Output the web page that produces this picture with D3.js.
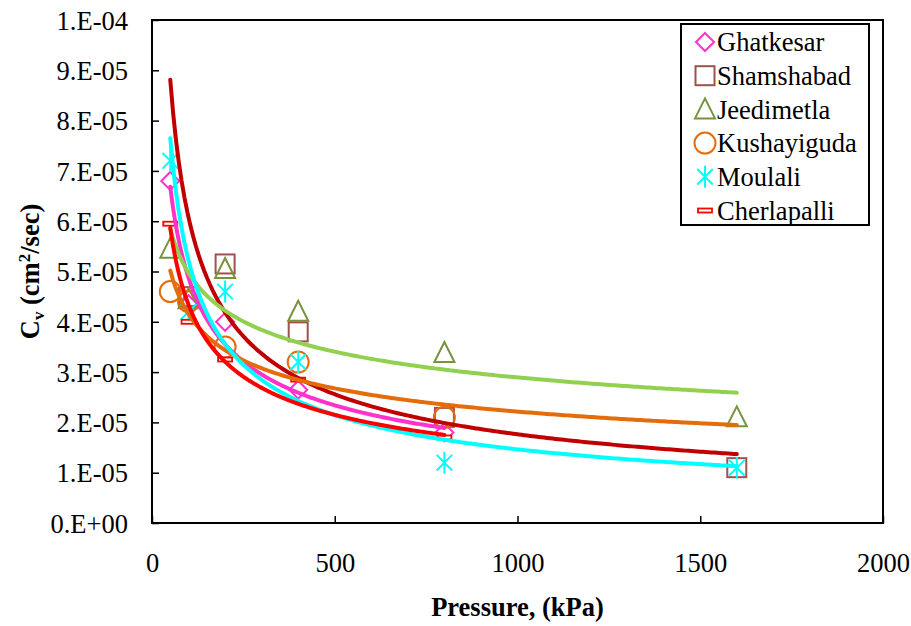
<!DOCTYPE html>
<html>
<head>
<meta charset="utf-8">
<script src="https://cdn.jsdelivr.net/npm/d3@7"></script>
<style>
  html, body { margin: 0; padding: 0; background: #fff; }
  svg { display: block; font-family: "Liberation Serif", "Times New Roman", serif; }
</style>
</head>
<body>
<svg id="chart" width="911" height="626"></svg>
<script>
// Consolidation test results: coefficient of consolidation vs. applied pressure
const pressures = [50, 100, 200, 400, 800, 1600];
const seriesNames = ["Ghatkesar", "Shamshabad", "Jeedimetla", "Kushayiguda", "Moulali", "Cherlapalli"];

const ghatkesar   = [6.8e-5, 4.35e-5, 4.0e-5, 2.65e-5, 1.8e-5, null];
const shamshabad  = [null, 4.5e-5, 5.15e-5, 3.8e-5, 2.1e-5, 1.1e-5];
const jeedimetla  = [5.45e-5, 4.45e-5, 5.05e-5, 4.2e-5, 3.38e-5, 2.1e-5];
const kushayiguda = [4.6e-5, 4.4e-5, 3.5e-5, 3.2e-5, 2.1e-5, null];
const moulali     = [7.2e-5, 4.2e-5, 4.6e-5, 3.2e-5, 1.2e-5, 1.1e-5];
const cherlapalli = [5.95e-5, 4.0e-5, 3.25e-5, 2.85e-5, 1.7e-5, null];

// Power trendlines Cv = a * P^b, with the pressure span each one covers
const trendA     = [3.98e-4, 7.2e-4, 1.467e-4, 1.46e-4, 6.63e-4, 3.23e-4];
const trendB     = [-0.456, -0.537, -0.235, -0.273, -0.552, -0.436];
const trendStart = [50, 50, 50, 50, 50, 50];
const trendEnd   = [800, 1600, 1600, 1600, 1600, 800];

const xTicks = [0, 500, 1000, 1500, 2000];
const yTicks = [0, 1e-5, 2e-5, 3e-5, 4e-5, 5e-5, 6e-5, 7e-5, 8e-5, 9e-5, 1e-4];
const yTickLabels = ["0.E+00", "1.E-05", "2.E-05", "3.E-05", "4.E-05", "5.E-05",
                     "6.E-05", "7.E-05", "8.E-05", "9.E-05", "1.E-04"];

const seriesValues = [ghatkesar, shamshabad, jeedimetla, kushayiguda, moulali, cherlapalli];
const markerColors = ["#FF33CC", "#A0504D", "#77933C", "#E46C0A", "#00FFFF", "#FF0000"];
const trendColors  = ["#FF33CC", "#C00000", "#92D050", "#E46C0A", "#00FFFF", "#FF0000"];
const markerKinds  = ["diamond", "square", "triangle", "circle", "asterisk", "dash"];

const FONT = 26.5;
const svg = d3.select("#chart");
const plot = { left: 152, right: 883, top: 20, bottom: 523 };

const x = d3.scaleLinear().domain([0, 2000]).range([plot.left, plot.right]);
const y = d3.scaleLinear().domain([0, 1e-4]).range([plot.bottom, plot.top]);

// Plot frame
svg.append("rect")
  .attr("x", plot.left).attr("y", plot.top)
  .attr("width", plot.right - plot.left).attr("height", plot.bottom - plot.top)
  .attr("fill", "none").attr("stroke", "#000").attr("stroke-width", 2);

// Axes with inward ticks
const yAxis = d3.axisRight(y).tickValues(yTicks)
  .tickFormat((d, i) => yTickLabels[i]).tickSize(7).tickPadding(0);
const gy = svg.append("g").attr("transform", `translate(${plot.left},0)`).call(yAxis);
gy.select(".domain").remove();
gy.selectAll("line").attr("stroke", "#000").attr("stroke-width", 1.5);
gy.selectAll("text")
  .attr("x", -24).attr("text-anchor", "end").attr("dy", "0.35em")
  .attr("font-size", FONT).attr("fill", "#000")
  .style("font-family", "'Liberation Serif', serif");

const xAxis = d3.axisTop(x).tickValues(xTicks).tickSize(7).tickFormat(d3.format("d"));
const gx = svg.append("g").attr("transform", `translate(0,${plot.bottom})`).call(xAxis);
gx.select(".domain").remove();
gx.selectAll("line").attr("stroke", "#000").attr("stroke-width", 1.5);
gx.selectAll("text")
  .attr("y", 40).attr("dy", "0.35em").attr("text-anchor", "middle")
  .attr("font-size", FONT).attr("fill", "#000")
  .style("font-family", "'Liberation Serif', serif");

// Axis titles
svg.append("text")
  .attr("x", (plot.left + plot.right) / 2).attr("y", 607)
  .attr("text-anchor", "middle").attr("dy", "0.35em")
  .attr("font-size", FONT).attr("font-weight", "bold")
  .text("Pressure, (kPa)");

const yTitle = svg.append("text")
  .attr("transform", `translate(30,${(plot.top + plot.bottom) / 2}) rotate(-90)`)
  .attr("text-anchor", "middle").attr("dy", "0.35em")
  .attr("font-size", FONT).attr("font-weight", "bold");
yTitle.append("tspan").text("C");
yTitle.append("tspan").attr("font-size", 17).attr("dy", 5).text("v");
yTitle.append("tspan").attr("dy", -5).text(" (cm");
yTitle.append("tspan").attr("font-size", 17).attr("dy", -9).text("2");
yTitle.append("tspan").attr("dy", 9).text("/sec)");

// Marker drawing
function drawMarker(g, kind, color, cx, cy) {
  const sw = 2;
  if (kind === "diamond") {
    const r = 9;
    g.append("path").attr("d", `M${cx},${cy - r}L${cx + r},${cy}L${cx},${cy + r}L${cx - r},${cy}Z`)
      .attr("fill", "none").attr("stroke", color).attr("stroke-width", sw);
  } else if (kind === "square") {
    const h = 9.5;
    g.append("rect").attr("x", cx - h).attr("y", cy - h).attr("width", 2 * h).attr("height", 2 * h)
      .attr("fill", "none").attr("stroke", color).attr("stroke-width", sw);
  } else if (kind === "triangle") {
    const h = 10;
    g.append("path").attr("d", `M${cx},${cy - h - 1}L${cx + h},${cy + h - 1}L${cx - h},${cy + h - 1}Z`)
      .attr("fill", "none").attr("stroke", color).attr("stroke-width", sw);
  } else if (kind === "circle") {
    g.append("circle").attr("cx", cx).attr("cy", cy).attr("r", 10.5)
      .attr("fill", "none").attr("stroke", color).attr("stroke-width", sw);
  } else if (kind === "asterisk") {
    const r = 11, dx = r * Math.cos(Math.PI / 4), dy = r * Math.sin(Math.PI / 4);
    g.append("path")
      .attr("d", `M${cx},${cy - r}L${cx},${cy + r}M${cx - dx},${cy - dy}L${cx + dx},${cy + dy}M${cx - dx},${cy + dy}L${cx + dx},${cy - dy}`)
      .attr("fill", "none").attr("stroke", color).attr("stroke-width", sw);
  } else if (kind === "dash") {
    g.append("rect").attr("x", cx - 7).attr("y", cy - 2).attr("width", 14).attr("height", 4)
      .attr("fill", "#fff").attr("stroke", color).attr("stroke-width", 1.8);
  }
}

// Data markers
const markerLayer = svg.append("g");
seriesValues.forEach((vals, si) => {
  vals.forEach((v, i) => {
    if (v == null) return;
    drawMarker(markerLayer, markerKinds[si], markerColors[si], x(pressures[i]), y(v));
  });
});

// Power trendlines
const line = d3.line().x(d => x(d[0])).y(d => y(d[1])).curve(d3.curveLinear);
const trendLayer = svg.append("g");
seriesNames.forEach((name, si) => {
  const pts = d3.range(0, 201).map(k => {
    const p = trendStart[si] + (trendEnd[si] - trendStart[si]) * k / 200;
    return [p, trendA[si] * Math.pow(p, trendB[si])];
  });
  trendLayer.append("path").datum(pts).attr("d", line)
    .attr("fill", "none").attr("stroke", trendColors[si])
    .attr("stroke-width", 4).attr("stroke-linecap", "round");
});

// Legend
const lg = svg.append("g");
const lgBox = { x: 681, y: 24, w: 188, h: 201 };
lg.append("rect").attr("x", lgBox.x).attr("y", lgBox.y).attr("width", lgBox.w).attr("height", lgBox.h)
  .attr("fill", "#fff").attr("stroke", "#000").attr("stroke-width", 2);
seriesNames.forEach((name, si) => {
  const cy = 42 + si * 33.7;
  drawMarker(lg, markerKinds[si], markerColors[si], 705, cy);
  lg.append("text").attr("x", 717).attr("y", cy).attr("dy", "0.35em")
    .attr("font-size", FONT).attr("fill", "#000").text(name);
});
</script>
</body>
</html>
